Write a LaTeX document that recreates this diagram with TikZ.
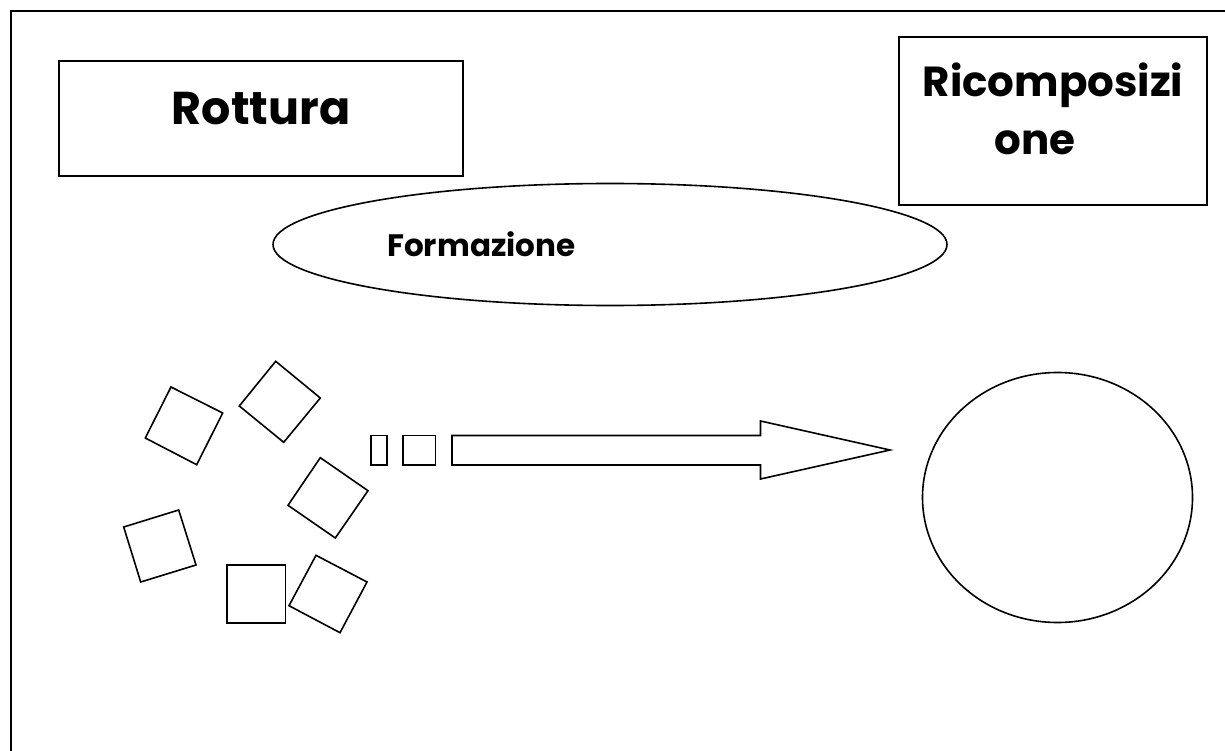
\documentclass[tikz,border=0pt]{standalone}
\usepackage{fontspec}
\setmainfont{Poppins}
\usetikzlibrary{shapes.geometric}
\tikzset{
  shp/.style={draw=black, line width=1.6pt, line join=miter},
  lbl/.style={font=\bfseries, inner sep=0pt},
}
\begin{document}
\begin{tikzpicture}[x=1pt,y=-1pt]
\useasboundingbox (0,0) rectangle (1225,751);
% outer frame (only top and left visible)
\coordinate (fr) at (11,11);
\draw[line width=1.6pt] (1230,11) -- (fr) -- (11,760);
% Rottura box
\node[shp, minimum width=404pt, minimum height=115pt, inner sep=0pt] (rbox) at (261,118.5) {};
\node[lbl, font=\bfseries\fontsize{46}{50}\selectfont, anchor=base] (rtxt) at (261,125) {Rottura};
% Ricomposizione box
\node[shp, minimum width=308pt, minimum height=168pt, inner sep=0pt] (cbox) at (1053,121) {};
\node[lbl, font=\bfseries\fontsize{42}{46}\selectfont, anchor=base] (ctxt1) at (1053,97) {Ricomposizi};
\node[lbl, font=\bfseries\fontsize{42}{46}\selectfont, anchor=base] (ctxt2) at (1035,155) {one};
% Formazione ellipse
\node[shp, ellipse, minimum width=674pt, minimum height=122pt, inner sep=0pt] (fell) at (610,244.5) {};
\node[lbl, font=\bfseries\fontsize{31}{35}\selectfont, anchor=base west] (ftxt) at (387,256) {Formazione};
% pieces
\draw[shp] (171,387) -- (222.7,413) -- (196.7,464.7) -- (145.3,438) -- cycle;
\draw[shp] (275.7,361.3) -- (320.3,398) -- (283.7,442.3) -- (239.3,406) -- cycle;
\draw[shp] (320.3,457.7) -- (368,490.7) -- (335.3,538) -- (288,505.3) -- cycle;
\draw[shp] (123.7,527) -- (178.7,510) -- (196,565) -- (140.7,582) -- cycle;
\draw[shp] (226.7,565) rectangle (285.3,622.7);
\draw[shp] (316,555.3) -- (367,582) -- (340,632.7) -- (289,605.7) -- cycle;
% small rects
\draw[shp] (371,435.5) rectangle (387,465);
\draw[shp] (403,435.5) rectangle (435.5,465);
% big arrow
\draw[shp] (452,435.5) -- (760.5,435.5) -- (760.5,421) -- (890,450) -- (760.5,479) -- (760.5,465) -- (452,465) -- cycle;
% circle
\node[shp, ellipse, minimum width=270pt, minimum height=250pt, inner sep=0pt] (circ) at (1057.5,497.5) {};
\end{tikzpicture}
\end{document}
